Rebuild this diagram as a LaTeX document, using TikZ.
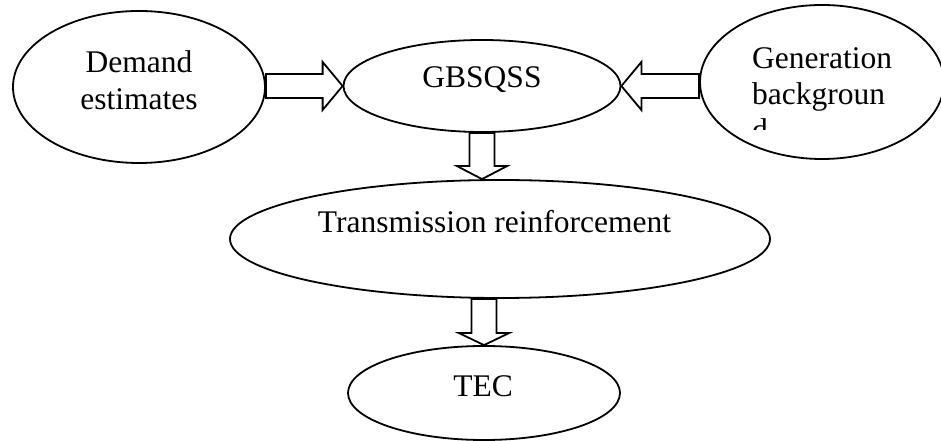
\documentclass[tikz,border=0pt]{standalone}
\usepackage{fontspec}
\setmainfont{Liberation Serif}
\usetikzlibrary{shapes.geometric,calc}
\begin{document}
\begin{tikzpicture}[x=1pt,y=1pt,
  every node/.style={inner sep=0pt},
  oval/.style={draw, ellipse, line width=1.8pt},
  lbl/.style={font=\fontsize{31.5}{37}\selectfont, anchor=base},
  barrow/.style={draw, fill=white, line width=1.8pt, line join=miter}]
\useasboundingbox (0,0) rectangle (941,441);

% ellipses
\node[oval, minimum width=252, minimum height=152] (dem) at (139,354) {};
\node[oval, minimum width=277, minimum height=92]  (gb)  at (482,355) {};
\node[oval, minimum width=244, minimum height=154] (gen) at (822,359) {};
\node[oval, minimum width=540, minimum height=118] (tr)  at (500,202) {};
\node[oval, minimum width=272, minimum height=94]  (tec) at (484,48) {};

% labels
\node[lbl] (demA) at (139,368) {Demand};
\node[lbl] (demB) at (139,331) {estimates};
\node[lbl] (gbt)  at (482,353) {GBSQSS};
\node[lbl] (trt)  at (494.5,208) {Transmission reinforcement};
\node[lbl] (tect) at (483,44) {TEC};
\begin{scope}
  \clip (700,311) rectangle (941,441);
  \node[lbl, anchor=base west] (genA) at (752,372) {Generation};
  \node[lbl, anchor=base west] (genB) at (752,336) {backgroun};
  \node[lbl, anchor=base west] (genC) at (752,300) {d};
\end{scope}

% block arrows
\draw[barrow] let \p1=(dem.east), \p2=(gb.west) in
  (\x1,\y2+12) -- (\x2-20,\y2+12) -- (\x2-20,\y2+24) -- (\x2,\y2)
  -- (\x2-20,\y2-24) -- (\x2-20,\y2-12) -- (\x1,\y2-12) -- cycle;
\draw[barrow] let \p1=(gen.west), \p2=(gb.east) in
  (\x1,\y2+12) -- (\x2+20,\y2+12) -- (\x2+20,\y2+24) -- (\x2,\y2)
  -- (\x2+20,\y2-24) -- (\x2+20,\y2-12) -- (\x1,\y2-12) -- cycle;
\draw[barrow] let \p1=(gb.south), \p2=(tr.north) in
  (\x1-12.5,\y1) -- (\x1-12.5,\y2+13) -- (\x1-25,\y2+13) -- (\x1,\y2)
  -- (\x1+25,\y2+13) -- (\x1+12.5,\y2+13) -- (\x1+12.5,\y1) -- cycle;
\draw[barrow] let \p1=(tr.south), \p2=(tec.north) in
  (\x2-12.5,\y1) -- (\x2-12.5,\y2+12) -- (\x2-25,\y2+12) -- (\x2,\y2)
  -- (\x2+25,\y2+12) -- (\x2+12.5,\y2+12) -- (\x2+12.5,\y1) -- cycle;
\end{tikzpicture}
\end{document}
